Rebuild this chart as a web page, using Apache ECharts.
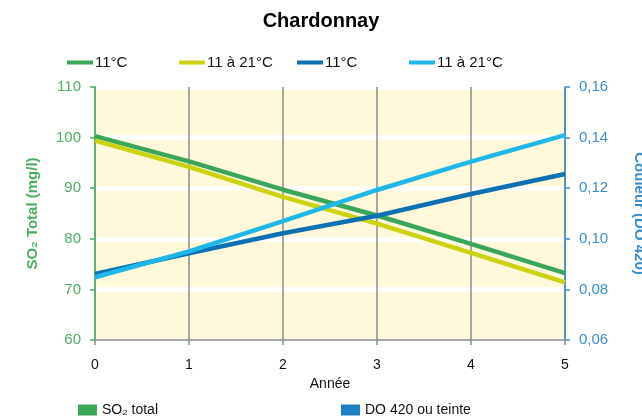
<!DOCTYPE html>
<html>
<head>
<meta charset="utf-8">
<script src="https://cdn.jsdelivr.net/npm/echarts@6/dist/echarts.min.js"></script>
<style>
html,body{margin:0;padding:0;background:#fff;}
#chart{width:642px;height:419px;}
</style>
</head>
<body>
<div id="chart"></div>
<script>
const years = [0, 1, 2, 3, 4, 5];
const so2_11 = [100.3, 95.3, 89.7, 84.6, 79.0, 73.2];
const so2_11_21 = [99.4, 94.2, 88.3, 83.0, 77.2, 71.4];
const do420_11 = [0.0861, 0.0943, 0.1022, 0.1091, 0.1177, 0.1256];
const do420_11_21 = [0.0848, 0.0950, 0.1070, 0.1193, 0.1305, 0.1410];
const seriesLabels = ['11°C', '11 à 21°C', '11°C', '11 à 21°C'];
const groupLabels = ['SO₂ total', 'DO 420 ou teinte'];

const C_GREEN = '#3aa659';
const C_YELLOW = '#ccd20f';
const C_DBLUE = '#0c70b3';
const C_LBLUE = '#1fb7e8';
const C_AXIS_L = '#4aaf63';
const C_AXIS_R = '#3a8dcb';
const FONT = 'Liberation Sans, Arial, Helvetica, sans-serif';

const pairs = (ys) => years.map((x, i) => [x, ys[i]]);

const chart = echarts.init(document.getElementById('chart'), null, {renderer: 'canvas'});

const lineSeries = (name, data, color, yIdx) => ({
  name, type: 'line', data: pairs(data), yAxisIndex: yIdx,
  showSymbol: false, symbol: 'none', smooth: false,
  lineStyle: {color, width: 4.5}, itemStyle: {color}, z: 3
});

const topLegend = (name, label, left) => ({
  data: [name], left, top: 50, icon: 'rect', itemWidth: 26, itemHeight: 4,
  itemGap: 0, formatter: () => label, selectedMode: false,
  textStyle: {fontFamily: FONT, fontSize: 15, color: '#111', padding: [0, 0, 0, -3]}
});
const botLegend = (name, label, left) => ({
  data: [name], left, top: 398, icon: 'rect', itemWidth: 19, itemHeight: 11,
  formatter: () => label, selectedMode: false,
  textStyle: {fontFamily: FONT, fontSize: 14, color: '#111'}
});

chart.setOption({
  animation: false,
  backgroundColor: '#fff',
  title: {
    text: 'Chardonnay', left: 'center', top: 6,
    textStyle: {fontFamily: FONT, fontSize: 20, fontWeight: 'bold', color: '#000'}
  },
  legend: [
    topLegend('s1', seriesLabels[0], 62),
    topLegend('s2', seriesLabels[1], 174),
    topLegend('s3', seriesLabels[2], 292),
    topLegend('s4', seriesLabels[3], 404),
    botLegend('g1', groupLabels[0], 73),
    botLegend('g2', groupLabels[1], 336)
  ],
  grid: {
    left: 95, right: 77, top: 87, bottom: 79,
    outerBoundsMode: 'none', containLabel: false,
    show: true, backgroundColor: '#fff9dc', borderWidth: 0
  },
  xAxis: {
    type: 'value', min: 0, max: 5, interval: 1,
    name: 'Année', nameLocation: 'middle', nameGap: 35,
    nameTextStyle: {fontFamily: FONT, fontSize: 14, color: '#111'},
    axisLine: {show: true, lineStyle: {color: '#8c8c8c', width: 1.5}},
    axisTick: {show: true, length: 5, lineStyle: {color: '#8c8c8c', width: 1.5}},
    axisLabel: {fontFamily: FONT, fontSize: 14, color: '#111', margin: 18},
    splitLine: {show: true, lineStyle: {color: '#8c8c8c', width: 1.5}}
  },
  yAxis: [
    {
      type: 'value', min: 60, max: 110, interval: 10, position: 'left',
      name: 'SO₂ Total (mg/l)', nameLocation: 'middle', nameGap: 55,
      nameTextStyle: {fontFamily: FONT, fontSize: 15, fontWeight: 'bold', color: C_AXIS_L},
      axisLine: {show: true, lineStyle: {color: C_AXIS_L, width: 1.5}},
      axisTick: {show: true, length: 5, lineStyle: {color: C_AXIS_L, width: 1.5}},
      axisLabel: {fontFamily: FONT, fontSize: 15, color: C_AXIS_L, margin: 14},
      splitLine: {show: true, lineStyle: {color: '#ffffff', width: 4.5}}
    },
    {
      type: 'value', min: 0.06, max: 0.16, interval: 0.02, position: 'right',
      name: 'Couleur (DO 420)', nameLocation: 'middle', nameGap: 67, nameRotate: -90,
      nameTextStyle: {fontFamily: FONT, fontSize: 15, fontWeight: 'bold', color: C_AXIS_R},
      axisLine: {show: true, lineStyle: {color: C_AXIS_R, width: 1.5}},
      axisTick: {show: true, length: 5, lineStyle: {color: C_AXIS_R, width: 1.5}},
      axisLabel: {fontFamily: FONT, fontSize: 15, color: C_AXIS_R, margin: 14,
        formatter: (v) => v.toFixed(2).replace('.', ',')},
      splitLine: {show: false}
    }
  ],
  series: [
    lineSeries('s1', so2_11, C_GREEN, 0),
    lineSeries('s2', so2_11_21, C_YELLOW, 0),
    lineSeries('s3', do420_11, C_DBLUE, 1),
    lineSeries('s4', do420_11_21, C_LBLUE, 1),
    {name: 'g1', type: 'line', data: [], itemStyle: {color: '#3aa757'}, lineStyle: {color: '#3aa757'}},
    {name: 'g2', type: 'line', data: [], yAxisIndex: 1, itemStyle: {color: '#1f7fc3'}, lineStyle: {color: '#1f7fc3'}}
  ]
});
</script>
</body>
</html>
